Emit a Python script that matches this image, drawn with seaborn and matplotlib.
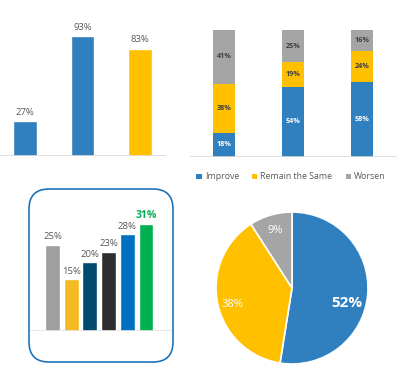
import numpy as np
import pandas as pd
import matplotlib
matplotlib.use("Agg")
import matplotlib.pyplot as plt
from matplotlib.patches import FancyBboxPatch, Patch
import seaborn as sns

# --- data ---
top_cats = ["A", "B", "C"]
top_vals = [27, 93, 83]
top_colors = ["#3080C0", "#3080C0", "#FFC000"]

stack_cats = ["G1", "G2", "G3"]
improve = [18, 54, 58]
remain = [38, 19, 24]
worsen = [41, 25, 16]
stack_names = ["Improve", "Remain the Same", "Worsen"]
stack_colors = ["#3080C0", "#FFC000", "#A5A5A5"]

box_cats = ["c1", "c2", "c3", "c4", "c5", "c6"]
box_vals = [25, 15, 20, 23, 28, 31]
box_colors = ["#A09F9D", "#F3BA24", "#004A6E", "#2E2E2E", "#0070C0", "#00B050"]

pie_labels = ["Improve", "Remain the Same", "Worsen"]
pie_vals = [52, 38, 9]
pie_colors = ["#3080C0", "#FFC000", "#A5A5A5"]

W, H = 410, 392
LABEL = "#595959"

sns.set_style("white")
plt.rcParams["font.family"] = ["Open Sans", "DejaVu Sans"]

fig = plt.figure(figsize=(W / 100, H / 100), dpi=100)


def px_axes(x0, y0, x1, y1):
    # pixel box (top-left origin) -> figure axes
    return fig.add_axes([x0 / W, 1 - y1 / H, (x1 - x0) / W, (y1 - y0) / H])


def clean(ax):
    ax.set_xticks([])
    ax.set_yticks([])
    ax.set_xlabel("")
    ax.set_ylabel("")
    for s in ax.spines.values():
        s.set_visible(False)
    ax.patch.set_alpha(0)


# --- panel 1: simple bars ---
ax1 = px_axes(0, 27, 166, 156)
df1 = pd.DataFrame({"cat": top_cats, "val": top_vals})
sns.barplot(data=df1, x="cat", y="val", hue="cat", palette=top_colors,
            width=0.417, legend=False, ax=ax1, saturation=1)
ax1.set_xlim(-0.435, 2.452)
ax1.set_ylim(0, 100)
clean(ax1)
ax1.axhline(0, color="#D9D9D9", lw=1.2)
for i, v in enumerate(top_vals):
    ax1.text(i, v + 3.5, f"{v}%", ha="center", va="bottom", fontsize=6.8, color=LABEL)

# --- panel 2: 100% stacked bars ---
ax2 = px_axes(190, 30, 397, 156.7)
df2 = pd.DataFrame({"cat": stack_cats, "Improve": improve,
                    "Remain the Same": remain, "Worsen": worsen})
tot = df2[stack_names].sum(axis=1)
bottom = np.zeros(len(df2))
for name, col in zip(stack_names, stack_colors):
    share = df2[name] / tot * 100
    sns.barplot(x=df2["cat"], y=share, color=col, width=0.32, ax=ax2,
                bottom=bottom, saturation=1, linewidth=0)
    for i, (s, raw) in enumerate(zip(share, df2[name])):
        tc = "white" if name == "Improve" else "#404040"
        ax2.text(i, bottom[i] + s / 2, f"{raw}%", ha="center", va="center",
                 fontsize=5.2, fontweight="bold", color=tc)
    bottom = bottom + share.values
ax2.set_xlim(-0.493, 2.507)
ax2.set_ylim(0, 100)
clean(ax2)
ax2.axhline(0, color="#D9D9D9", lw=1.2)

handles = [Patch(facecolor=c, edgecolor="none") for c in stack_colors]
fig.legend(handles, stack_names, loc="center", bbox_to_anchor=(291 / W, 1 - 177 / H),
           ncol=3, frameon=False, fontsize=6.3, handlelength=0.6, handleheight=0.6,
           handletextpad=0.35, columnspacing=1.5, labelcolor=LABEL)

# --- panel 3: bars in rounded box ---
box = FancyBboxPatch((0.29, (H - 362) / 100), 1.44, 1.73,
                     boxstyle="round,pad=0,rounding_size=0.2",
                     transform=fig.dpi_scale_trans, facecolor="none",
                     edgecolor="#1F73BA", lw=1.2, zorder=-1)
fig.patches.append(box)

ax3 = px_axes(30, 210, 172, 331)
df3 = pd.DataFrame({"cat": box_cats, "val": box_vals})
sns.barplot(data=df3, x="cat", y="val", hue="cat", palette=box_colors,
            width=0.8, legend=False, ax=ax3, saturation=1)
ax3.set_xlim(-1.2, 6.39)
ax3.set_ylim(0, 121 / 3.45)
clean(ax3)
ax3.axhline(0, color="#E3E3E3", lw=1.2)
for i, v in enumerate(box_vals):
    if i == len(box_vals) - 1:
        ax3.text(i, v + 1.0, f"{v}%", ha="center", va="bottom", fontsize=7.5,
                 fontweight="bold", color="#00B050")
    else:
        ax3.text(i, v + 1.0, f"{v}%", ha="center", va="bottom", fontsize=6.8, color=LABEL)

# --- panel 4: pie ---
ax4 = px_axes(216, 212, 368, 364)
wedges, texts, autotexts = ax4.pie(
    pie_vals, colors=pie_colors, startangle=90, counterclock=False,
    autopct=lambda p: f"{p:.0f}%", pctdistance=0.79,
    wedgeprops=dict(edgecolor="white", linewidth=1.2))
ax4.set_xlim(-1, 1)
ax4.set_ylim(-1, 1)
ax4.set_aspect("equal")
label_text = [f"{v}%" for v in pie_vals]
for t, s in zip(autotexts, label_text):
    t.set_text(s)
    t.set_color("white")
    t.set_fontsize(8)
autotexts[0].set_fontsize(11)
autotexts[0].set_fontweight("bold")
autotexts[0].set_position((0.72, -0.2))
autotexts[1].set_position((-0.78, -0.22))

fig.savefig("out.png", dpi=100, facecolor="white")
